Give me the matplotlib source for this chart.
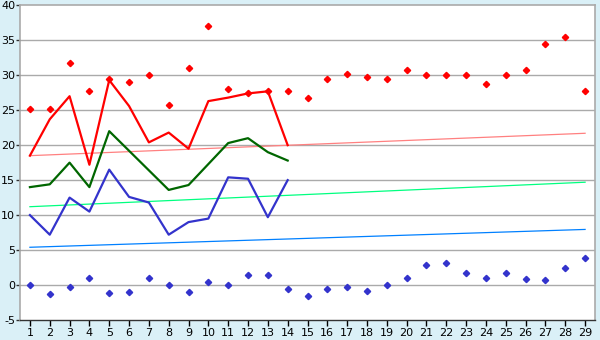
import matplotlib
matplotlib.use("Agg")
import matplotlib.pyplot as plt

days = list(range(1, 30))
line_days = list(range(1, 15))

red_points = [25.2, 25.2, 31.7, 27.8, 29.4, 29.0, 30.0, 25.8, 31.0, 37.0,
              28.0, 27.4, 27.8, 27.8, 26.7, 29.5, 30.2, 29.7, 29.4, 30.7,
              30.0, 30.0, 30.0, 28.8, 30.0, 30.8, 34.4, 35.4, 27.7]
blue_points = [0.0, -1.3, -0.3, 1.0, -1.2, -1.0, 1.0, 0.0, -1.0, 0.4,
               0.0, 1.5, 1.4, -0.6, -1.6, -0.5, -0.3, -0.9, 0.0, 1.0,
               2.8, 3.2, 1.7, 1.0, 1.7, 0.8, 0.7, 2.5, 3.8]
red_line = [18.5, 23.7, 27.0, 17.2, 29.3, 25.6, 20.4, 21.8, 19.5, 26.3,
            26.8, 27.4, 27.7, 20.0]
green_line = [14.0, 14.4, 17.5, 14.0, 22.0, 19.2, 16.4, 13.6, 14.3, 17.3,
              20.3, 21.0, 19.0, 17.8]
blue_line = [10.0, 7.2, 12.5, 10.5, 16.5, 12.6, 11.8, 7.2, 9.0, 9.5,
             15.4, 15.2, 9.7, 15.0]
trend_x = [1, 29]
trend_red = [18.5, 21.7]
trend_green = [11.2, 14.7]
trend_blue = [5.4, 7.95]
y_ticks = [-5, 0, 5, 10, 15, 20, 25, 30, 35, 40]

bg = "#daf0f7"
fig = plt.figure(figsize=(6, 3.4), dpi=100, facecolor=bg)
ax = fig.add_axes([20 / 600, 20 / 340, 575 / 600, 314.7 / 340])
ax.set_facecolor("white")

for y in y_ticks[1:-1]:
    ax.axhline(y, color="#aaaaaa", lw=1.0, zorder=1)

ax.plot(trend_x, trend_red, color="#ff8080", lw=0.9, zorder=2)
ax.plot(trend_x, trend_green, color="#00ff80", lw=0.9, zorder=2)
ax.plot(trend_x, trend_blue, color="#0080ff", lw=0.9, zorder=2)

ax.plot(line_days, red_line, color="#ff0000", lw=1.6, zorder=3)
ax.plot(line_days, green_line, color="#006600", lw=1.6, zorder=3)
ax.plot(line_days, blue_line, color="#3333cc", lw=1.6, zorder=3)

ax.plot(days, red_points, ls="none", marker="D", ms=3.2, color="#ff0000", zorder=4)
ax.plot(days, blue_points, ls="none", marker="D", ms=3.2, color="#3333cc", zorder=4)

ax.set_xlim(0.5, 29.5)
ax.set_ylim(-5, 40)
ax.set_xticks(days)
ax.set_xticklabels([str(d) for d in days])
ax.set_yticks(y_ticks)
ax.set_yticklabels([str(v) for v in y_ticks])

for s in ["left", "top", "right"]:
    ax.spines[s].set_color("#aaaaaa")
    ax.spines[s].set_linewidth(1.2)
ax.spines["bottom"].set_color("#333333")
ax.spines["bottom"].set_linewidth(1.0)

ax.tick_params(axis="x", direction="out", length=4, width=1, color="black",
               labelsize=8, pad=2)
ax.tick_params(axis="y", direction="out", length=3, width=1, color="#333333",
               labelsize=8, pad=0.5)

fig.savefig("out.png", dpi=100, facecolor=bg)
